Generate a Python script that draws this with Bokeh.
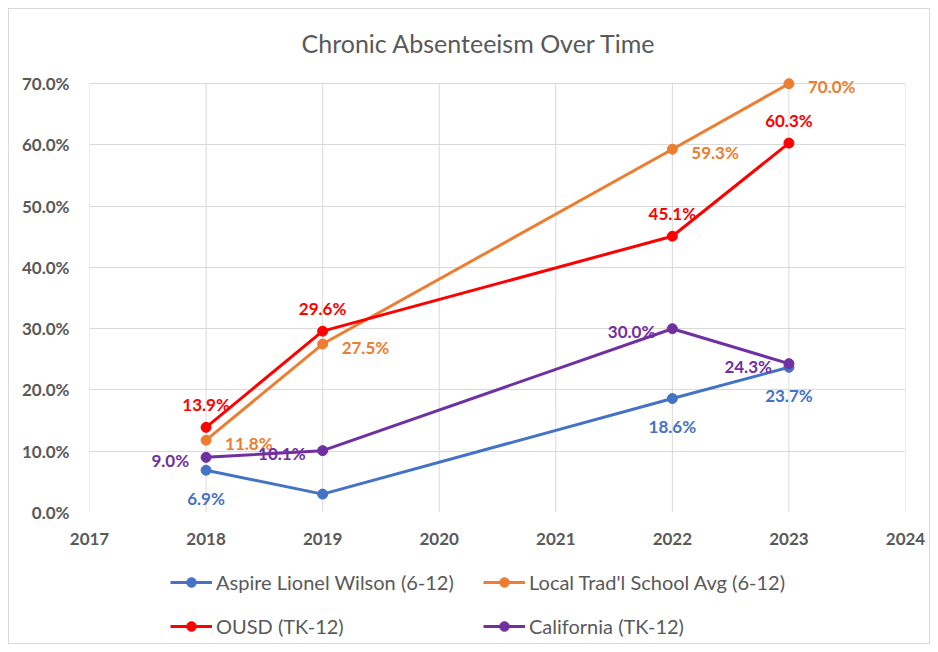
from bokeh.plotting import figure
from bokeh.layouts import column
from bokeh.models import (ColumnDataSource, LabelSet, Legend, LegendItem, Range1d,
                          FixedTicker, PrintfTickFormatter)
from bokeh.core.properties import value
from bokeh.embed import file_html
from bokeh.resources import INLINE

years = [2018, 2019, 2022, 2023]
aspire = [6.9, 3.0, 18.6, 23.7]
local_avg = [11.8, 27.5, 59.3, 70.0]
ousd = [13.9, 29.6, 45.1, 60.3]
california = [9.0, 10.1, 30.0, 24.3]
x_ticks = [2017, 2018, 2019, 2020, 2021, 2022, 2023, 2024]
y_ticks = [0, 10, 20, 30, 40, 50, 60, 70]

names = ["Aspire Lionel Wilson (6-12)", "Local Trad'l School Avg (6-12)",
         "OUSD (TK-12)", "California (TK-12)"]
values = [aspire, local_avg, ousd, california]
colors = ["#4472C4", "#ED7D31", "#FF0000", "#7030A0"]

FONT = "Lato"
GRAY = "#595959"
GRID = "#d9d9d9"

p = figure(width=920, height=551, output_backend="svg", toolbar_location=None,
           x_range=Range1d(x_ticks[0], x_ticks[-1]),
           y_range=Range1d(y_ticks[0], y_ticks[-1] + 1.5),
           min_border_left=80, min_border_right=24, min_border_top=65, min_border_bottom=48)
p.outline_line_color = None
p.background_fill_color = "white"
p.border_fill_color = "white"

p.title.text = "Chronic Absenteeism Over Time"
p.title.align = "left"
p.title.offset = 212
p.title.standoff = 33
p.title.text_font = FONT
p.title.text_font_size = "25px"
p.title.text_font_style = "normal"
p.title.text_color = GRAY

for ax in (p.xaxis[0], p.yaxis[0]):
    ax.axis_line_color = None
    ax.major_tick_line_color = None
    ax.minor_tick_line_color = None
    ax.major_label_text_font = FONT
    ax.major_label_text_font_size = "17px"
    ax.major_label_text_font_style = "bold"
    ax.major_label_text_color = GRAY

p.xaxis.ticker = FixedTicker(ticks=x_ticks)
p.yaxis.ticker = FixedTicker(ticks=y_ticks)
p.yaxis.formatter = PrintfTickFormatter(format="%.1f%%")
p.xaxis.major_label_standoff = 14
p.yaxis.major_label_standoff = 14

p.xgrid.visible = False
p.ygrid.grid_line_color = GRID
p.ygrid.grid_line_width = 1
# vertical gridlines spanning 0..70 only
p.segment(x0=x_ticks, x1=x_ticks, y0=[y_ticks[0]] * len(x_ticks), y1=[y_ticks[-1]] * len(x_ticks),
          line_color=GRID, line_width=1)

offsets = [
    dict(x_offset=0, y_offset=-28, text_align="center"),
    dict(x_offset=19, y_offset=-3, text_align="left"),
    dict(x_offset=0, y_offset=23, text_align="center"),
    dict(x_offset=-17, y_offset=-3, text_align="right"),
]

# legend strip (separate figure so the legend is not clipped)
pl = figure(width=920, height=83, output_backend="svg", toolbar_location=None,
            x_range=Range1d(0, 1), y_range=Range1d(0, 1),
            x_axis_type=None, y_axis_type=None,
            min_border_left=0, min_border_right=0, min_border_top=0, min_border_bottom=0)
pl.outline_line_color = None
pl.grid.visible = False
pl.border_fill_color = "white"

legend_items = {}
for name, vals, color, off in zip(names, values, colors, offsets):
    src = ColumnDataSource(dict(x=years, y=vals, t=["%.1f%%" % v for v in vals]))
    p.line("x", "y", source=src, line_color=color, line_width=3)
    p.scatter("x", "y", source=src, marker="circle", size=10, fill_color=color, line_color=color)
    ls = LabelSet(x="x", y="y", text="t", source=src, text_font=value(FONT), text_font_size="17px",
                  text_font_style="bold", text_color=color, text_baseline="middle", **off)
    p.add_layout(ls)
    # same data in the legend strip; it lies outside that strip's range, only the legend shows
    l1 = pl.line("x", "y", source=src, line_color=color, line_width=3)
    l2 = pl.scatter("x", "y", source=src, marker="circle", size=10, fill_color=color, line_color=color)
    legend_items[name] = LegendItem(label=name, renderers=[l1, l2])

def make_legend(cols, x, y):
    lg = Legend(items=[legend_items[n] for n in cols], location=(x, y), orientation="vertical",
                label_text_font=FONT, label_text_font_size="20px", label_text_color=GRAY,
                glyph_width=42, glyph_height=24, label_height=24, label_standoff=4,
                spacing=20, padding=0, margin=0,
                border_line_color=None, background_fill_alpha=0)
    pl.add_layout(lg, "center")

make_legend([names[0], names[2]], 81, 5)
make_legend([names[1], names[3]], 394, 5)

layout = column(p, pl, spacing=0)
layout.styles = {"border": "1px solid #d9d9d9", "margin": "8px 0 0 8px"}

open("out.html", "w").write(file_html(layout, INLINE))
